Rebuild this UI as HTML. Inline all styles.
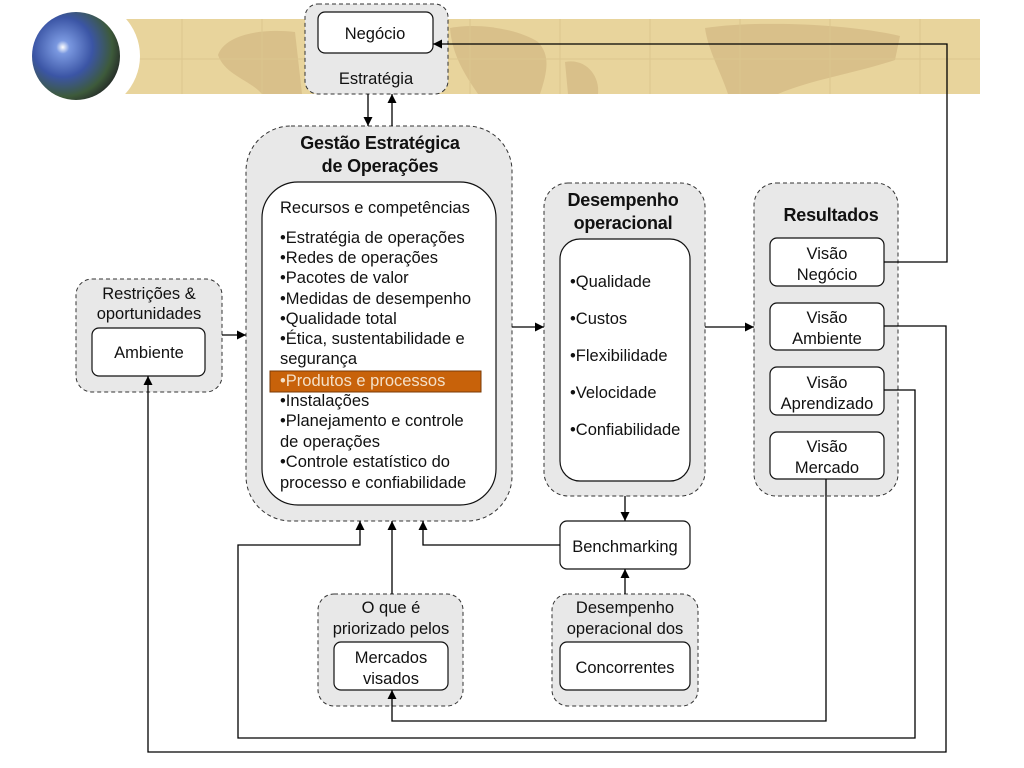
<!DOCTYPE html>
<html><head><meta charset="utf-8"><style>
html,body{margin:0;padding:0;background:#fff}
svg{display:block}
text{font-family:"Liberation Sans",Arial,sans-serif;fill:#111}
</style></head><body>
<svg width="1024" height="768" viewBox="0 0 1024 768" xmlns="http://www.w3.org/2000/svg">
<defs>
<radialGradient id="g" cx="0.35" cy="0.4" r="0.75">
<stop offset="0" stop-color="#ffffff"/>
<stop offset="0.1" stop-color="#7a98e0"/>
<stop offset="0.45" stop-color="#3b55a5"/>
<stop offset="0.75" stop-color="#3d5a3a"/>
<stop offset="1" stop-color="#1a1620"/>
</radialGradient>
<marker id="a" viewBox="0 0 10 10" refX="10" refY="5" markerWidth="9" markerHeight="9" orient="auto" markerUnits="userSpaceOnUse"><path d="M0,0 L10,5 L0,10 z" fill="#000"/></marker>
</defs>
<!-- banner -->
<rect x="120" y="19" width="860" height="75" fill="#e8d49c"/>
<g fill="#d9c08a">
<path d="M218,55 C225,35 260,28 295,32 L302,94 L262,94 C250,80 225,75 218,55z"/>
<path d="M450,28 C480,22 520,30 538,42 C550,55 548,70 540,94 L478,94 C465,75 452,55 450,28z"/>
<path d="M565,62 C585,58 600,75 598,94 L568,94z"/>
<path d="M705,28 C760,20 850,24 900,36 L895,60 C860,72 810,80 778,94 L728,94 C720,70 708,50 705,28z"/>
</g>
<g stroke="#dcc68e" stroke-width="1">
<line x1="120" y1="59" x2="980" y2="59"/>
<line x1="182" y1="19" x2="182" y2="94"/><line x1="262" y1="19" x2="262" y2="94"/>
<line x1="470" y1="19" x2="470" y2="94"/><line x1="560" y1="19" x2="560" y2="94"/>
<line x1="650" y1="19" x2="650" y2="94"/><line x1="740" y1="19" x2="740" y2="94"/>
<line x1="830" y1="19" x2="830" y2="94"/><line x1="920" y1="19" x2="920" y2="94"/>
</g>
<circle cx="84" cy="56" r="56" fill="#fff"/>
<circle cx="76" cy="56" r="44" fill="url(#g)"/>

<g stroke="#333" stroke-width="1" stroke-dasharray="4,3" fill="#e8e8e8">
<rect x="305" y="4" width="143" height="90" rx="13"/>
<rect x="246" y="126" width="266" height="395" rx="45"/>
<rect x="76" y="279" width="146" height="113" rx="16"/>
<rect x="544" y="183" width="161" height="313" rx="24"/>
<rect x="754" y="183" width="144" height="313" rx="22"/>
<rect x="318" y="594" width="145" height="112" rx="16"/>
<rect x="552" y="594" width="146" height="112" rx="16"/>
</g>
<g stroke="#111" stroke-width="1.2" fill="#fff">
<rect x="318" y="12" width="115" height="41" rx="7"/>
<rect x="262" y="182" width="234" height="323" rx="36"/>
<rect x="92" y="328" width="113" height="48" rx="7"/>
<rect x="560" y="239" width="130" height="242" rx="20"/>
<rect x="770" y="238" width="114" height="48" rx="7"/>
<rect x="770" y="303" width="114" height="47" rx="7"/>
<rect x="770" y="367" width="114" height="48" rx="7"/>
<rect x="770" y="432" width="114" height="47" rx="7"/>
<rect x="560" y="521" width="130" height="48" rx="7"/>
<rect x="334" y="642" width="114" height="48" rx="7"/>
<rect x="560" y="642" width="130" height="48" rx="7"/>
</g>
<rect x="270" y="371" width="211" height="21" fill="#c8620a" stroke="#7a3a05" stroke-width="1"/>

<g stroke="#000" stroke-width="1.3" fill="none" marker-end="url(#a)">
<line x1="368" y1="94" x2="368" y2="126"/>
<line x1="392" y1="126" x2="392" y2="94"/>
<line x1="222" y1="335" x2="246" y2="335"/>
<line x1="512" y1="327" x2="544" y2="327"/>
<line x1="705" y1="327" x2="754" y2="327"/>
<line x1="625" y1="496" x2="625" y2="521"/>
<line x1="625" y1="594" x2="625" y2="569"/>
<line x1="392" y1="594" x2="392" y2="521"/>
<polyline points="560,545 423,545 423,521"/>
<polyline points="884,262 947,262 947,44 433,44"/>
<polyline points="884,326 946,326 946,752 148,752 148,376"/>
<polyline points="884,390 915,390 915,738 238,738 238,545 360,545 360,521"/>
<polyline points="826,479 826,721 392,721 392,690"/>
</g>

<g font-size="16.5" text-anchor="middle">
<text x="375" y="39">Negócio</text>
<text x="376" y="84">Estratégia</text>
<text x="149" y="299">Restrições &amp;</text>
<text x="149" y="319">oportunidades</text>
<text x="149" y="358">Ambiente</text>
<text x="827" y="259">Visão</text><text x="827" y="280">Negócio</text>
<text x="827" y="323">Visão</text><text x="827" y="344">Ambiente</text>
<text x="827" y="388">Visão</text><text x="827" y="409">Aprendizado</text>
<text x="827" y="452">Visão</text><text x="827" y="473">Mercado</text>
<text x="625" y="552">Benchmarking</text>
<text x="391" y="613">O que é</text>
<text x="391" y="634">priorizado pelos</text>
<text x="391" y="663">Mercados</text><text x="391" y="684">visados</text>
<text x="625" y="613">Desempenho</text>
<text x="625" y="634">operacional dos</text>
<text x="625" y="673">Concorrentes</text>
</g>
<g font-size="18" font-weight="bold" text-anchor="middle" letter-spacing="-0.2">
<text x="380" y="149">Gestão Estratégica</text>
<text x="380" y="172">de Operações</text>
<text x="623" y="206">Desempenho</text>
<text x="623" y="229">operacional</text>
<text x="831" y="221">Resultados</text>
</g>
<g font-size="16.5">
<text x="280" y="213">Recursos e competências</text>
<text x="280" y="243">•Estratégia de operações</text>
<text x="280" y="263">•Redes de operações</text>
<text x="280" y="283">•Pacotes de valor</text>
<text x="280" y="304">•Medidas de desempenho</text>
<text x="280" y="324">•Qualidade total</text>
<text x="280" y="344">•Ética, sustentabilidade e</text>
<text x="280" y="364">segurança</text>
<text x="280" y="386" style="fill:#f4e0c8">•Produtos e processos</text>
<text x="280" y="406">•Instalações</text>
<text x="280" y="426">•Planejamento e controle</text>
<text x="280" y="447">de operações</text>
<text x="280" y="467">•Controle estatístico do</text>
<text x="280" y="488">processo e confiabilidade</text>
<text x="570" y="287">•Qualidade</text>
<text x="570" y="324">•Custos</text>
<text x="570" y="361">•Flexibilidade</text>
<text x="570" y="398">•Velocidade</text>
<text x="570" y="435">•Confiabilidade</text>
</g>
</svg>
</body></html>
